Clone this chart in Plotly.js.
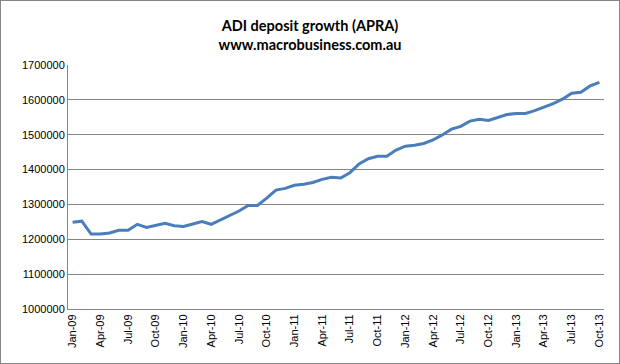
<!DOCTYPE html>
<html>
<head>
<meta charset="utf-8">
<script src="https://cdn.plot.ly/plotly-3.0.1.min.js"></script>
<style>
html,body{margin:0;padding:0;background:#fff;}
#chart{width:618px;height:362px;border:1px solid #868686;}
</style>
</head>
<body>
<div id="chart"></div>
<script>
const months = ["Jan-09","Feb-09","Mar-09","Apr-09","May-09","Jun-09","Jul-09","Aug-09","Sep-09","Oct-09","Nov-09","Dec-09",
"Jan-10","Feb-10","Mar-10","Apr-10","May-10","Jun-10","Jul-10","Aug-10","Sep-10","Oct-10","Nov-10","Dec-10",
"Jan-11","Feb-11","Mar-11","Apr-11","May-11","Jun-11","Jul-11","Aug-11","Sep-11","Oct-11","Nov-11","Dec-11",
"Jan-12","Feb-12","Mar-12","Apr-12","May-12","Jun-12","Jul-12","Aug-12","Sep-12","Oct-12","Nov-12","Dec-12",
"Jan-13","Feb-13","Mar-13","Apr-13","May-13","Jun-13","Jul-13","Aug-13","Sep-13","Oct-13"];
const deposits = [1249000,1252000,1215000,1215000,1218000,1226000,1226000,1243000,1234000,1240000,1246000,1239000,
1237000,1244000,1251000,1243000,1255000,1268000,1281000,1297000,1297000,1318000,1341000,1346000,
1355000,1358000,1363000,1372000,1378000,1376000,1391000,1416000,1431000,1438000,1438000,1456000,
1467000,1470000,1475000,1485000,1499000,1516000,1524000,1539000,1544000,1541000,1549000,1558000,
1561000,1561000,1569000,1578000,1589000,1602000,1619000,1622000,1640000,1650000];
const yTicks = [1000000,1100000,1200000,1300000,1400000,1500000,1600000,1700000];
const xTicks = months.filter((m,i)=>i%3===0);

const trace = {
  x: months, y: deposits, type: 'scatter', mode: 'lines',
  line: {color: '#4a7ebb', width: 3},
  hoverinfo: 'x+y'
};
const layout = {
  width: 618, height: 362,
  margin: {l: 67, r: 15, t: 64, b: 54},
  paper_bgcolor: '#fff', plot_bgcolor: '#fff',
  showlegend: false,
  title: {
    text: '<b>ADI deposit growth (APRA)</b><br><b>www.macrobusiness.com.au</b>',
    font: {family: 'Lato, "Open Sans", sans-serif', size: 14.5, color: '#000', weight: 'bold'},
    x: 0.5, xanchor: 'center', y: 1 - 30/362, yanchor: 'middle', yref: 'container'
  },
  xaxis: {
    type: 'category', range: [-0.5, months.length - 0.5],
    tickmode: 'array', tickvals: xTicks, ticktext: xTicks,
    tickangle: -90, showgrid: false, zeroline: false,
    showline: true, linecolor: '#868686', linewidth: 1,
    ticks: '', tickfont: {family: '"Liberation Sans", Arial, sans-serif', size: 11, color: '#000'}
  },
  yaxis: {
    range: [1000000, 1700000], tickmode: 'array', tickvals: yTicks,
    ticktext: yTicks.map(v => String(v)),
    showgrid: true, gridcolor: '#868686', gridwidth: 1,
    showline: true, linecolor: '#868686', linewidth: 1, zeroline: false,
    ticks: '', ticklen: 0, tickfont: {family: '"Liberation Sans", Arial, sans-serif', size: 11, color: '#000'}
  }
};
Plotly.newPlot('chart', [trace], layout, {displayModeBar: false, staticPlot: true});
</script>
</body>
</html>
